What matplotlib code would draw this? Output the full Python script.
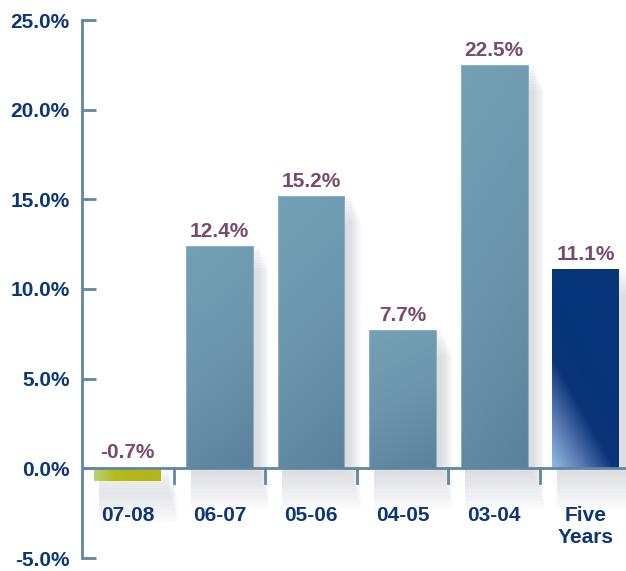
import numpy as np
import matplotlib
matplotlib.use("Agg")
import matplotlib.pyplot as plt
from matplotlib.patches import Rectangle
from matplotlib.colors import LinearSegmentedColormap

categories = ["07-08", "06-07", "05-06", "04-05", "03-04", "Five\nYears"]
values = [-0.7, 12.4, 15.2, 7.7, 22.5, 11.1]
value_labels = ["-0.7%", "12.4%", "15.2%", "7.7%", "22.5%", "11.1%"]
yticks = [-5, 0, 5, 10, 15, 20, 25]
ytick_labels = ["-5.0%", "0.0%", "5.0%", "10.0%", "15.0%", "20.0%", "25.0%"]

W, H = 626, 571
fig = plt.figure(figsize=(W / 100, H / 100), dpi=100)
ax = fig.add_axes([82 / W, 1 - 558 / H, 1 - 82 / W, (558 - 20) / H])
ax.set_xlim(-0.5, 5.44)
ax.set_ylim(-5, 25)

axis_col = "#5f87a0"
navy = "#0b3677"
purple = "#7a4a6e"
font = "Liberation Sans"

steel = LinearSegmentedColormap.from_list("steel", ["#5a829d", "#6b96ad", "#74a0b6"])
navyc = LinearSegmentedColormap.from_list(
    "navy", [(0.0, "#90bae2"), (0.3, "#5a7ab4"), (0.62, "#0a3478"), (1.0, "#06357a")])
green = LinearSegmentedColormap.from_list("green", ["#bcd070", "#b4bc1c", "#b2b618"])

bw = 0.73
for i, v in enumerate(values):
    x0 = i - bw / 2
    y0, y1 = min(0, v), max(0, v)
    # soft shadow
    for k in range(10):
        dx = 0.02 + k * 0.012
        dy = k * 0.22
        sh = Rectangle((x0 + 0.05, y0 - dy - 0.3), bw + dx, (y1 - y0) + 0.3 + dy * 0.3,
                       facecolor="#9aa0ae", edgecolor="none", alpha=0.035, zorder=1)
        ax.add_patch(sh)
    rect = Rectangle((x0, y0), bw, y1 - y0, facecolor="none", edgecolor="none", zorder=3)
    ax.add_patch(rect)
    gx, gy = np.meshgrid(np.linspace(0, 1, 64), np.linspace(0, 1, 64))
    if i == 0:
        cmap = green
        grad = np.clip(gx * 1.6, 0, 1)
    elif i == 5:
        cmap = navyc
        grad = np.clip((gx * 0.6 + gy * 1.0) / 0.9, 0, 1)
    else:
        cmap = steel
        grad = np.clip(gy * 0.8 + (1 - gx) * 0.2, 0, 1)
    im = ax.imshow(grad, cmap=cmap, extent=(x0, x0 + bw, y0, y1), origin="lower",
                   aspect="auto", zorder=3, interpolation="bilinear")
    im.set_clip_path(rect)
    edge = Rectangle((x0, y0), bw, y1 - y0, facecolor="none",
                     edgecolor="#8fb0c2" if 0 < i < 5 else "none", lw=0.8, zorder=4)
    ax.add_patch(edge)
    ty = y1 + 0.5 if v > 0 else 0.6
    ax.text(i, ty, value_labels[i], ha="center", va="baseline", color=purple,
            fontsize=15, fontweight="bold", family=font, zorder=5)
    ax.text(i, -2.1, categories[i], ha="center", va="top", color=navy,
            fontsize=15, fontweight="bold", family=font, linespacing=1.2, zorder=5)

ax.set_xlim(-0.5, 5.44)
ax.set_ylim(-5, 25)

for s in ["top", "right", "bottom"]:
    ax.spines[s].set_visible(False)
ax.spines["left"].set_color(axis_col)
ax.spines["left"].set_linewidth(2)
ax.axhline(0, color=axis_col, lw=2, zorder=6)
ax.set_yticks(yticks)
ax.set_yticklabels(ytick_labels)
ax.tick_params(axis="y", direction="in", length=10, width=2, color=axis_col,
               labelcolor=navy, labelsize=15, pad=9)
for lab in ax.get_yticklabels():
    lab.set_fontweight("bold")
    lab.set_family(font)
ax.set_xticks([])
for b in np.arange(0.5, 5.5, 1.0):
    ax.plot([b, b], [0, -0.8], color=axis_col, lw=2, zorder=6, clip_on=False)

fig.savefig("out.png", dpi=100)
